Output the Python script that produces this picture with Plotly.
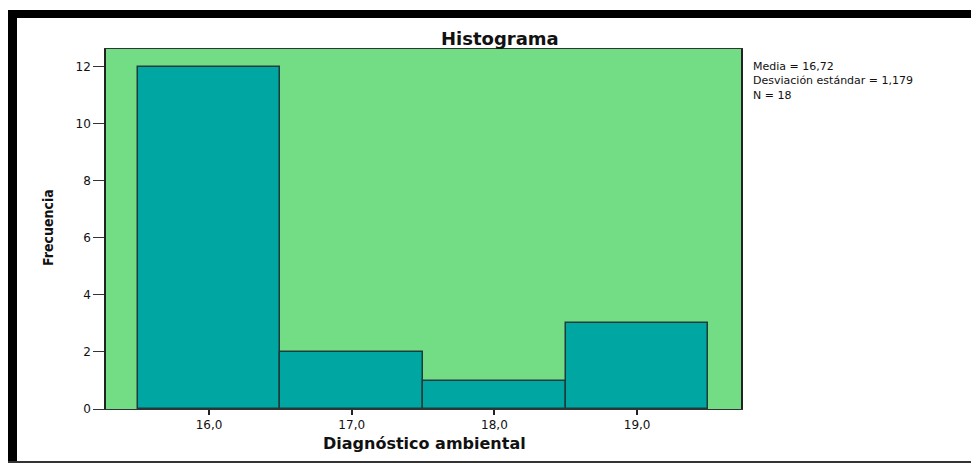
import plotly.graph_objects as go

# Data
bins = [16, 17, 18, 19]
counts = [12, 2, 1, 3]
x_tick_vals = [16, 17, 18, 19]
x_tick_text = ["16,0", "17,0", "18,0", "19,0"]
y_tick_vals = [0, 2, 4, 6, 8, 10, 12]
stats_lines = ["Media = 16,72", "Desviación estándar = 1,179", "N = 18"]

OFF = 8  # browser default body margin
W, H = 979 - OFF, 464 - OFF
L, R, T, B = 106, 741, 49, 409  # plot area in window px


def px(xp):
    return (xp - L) / (R - L)


def py(yp):
    return (B - yp) / (B - T)


fig = go.Figure()
fig.add_trace(go.Bar(
    x=bins, y=counts, width=1,
    marker=dict(color="#00A6A1", line=dict(color="#1E3C3C", width=1.5)),
    showlegend=False, hoverinfo="x+y",
))

fig.update_layout(
    width=W, height=H,
    margin=dict(l=L - OFF, r=(979 - R), t=T - OFF, b=(464 - B), pad=0),
    paper_bgcolor="white",
    plot_bgcolor="#72DD84",
    font=dict(family="DejaVu Sans, Arial", color="#111111"),
    bargap=0,
)

fig.update_xaxes(
    range=[15.278, 19.728], tickvals=x_tick_vals, ticktext=x_tick_text,
    ticks="outside", ticklen=5, tickwidth=1.5, tickcolor="#222",
    tickfont=dict(size=12, color="#111"),
    showline=True, linecolor="#333", linewidth=1, mirror=True,
    showgrid=False, zeroline=False,
)
fig.update_yaxes(
    range=[0, 12.63], tickvals=y_tick_vals,
    ticks="outside", ticklen=11, tickwidth=1, tickcolor="#333",
    tickfont=dict(size=12, color="#111"),
    showline=True, linecolor="#222", linewidth=1.5, mirror=True,
    showgrid=False, zeroline=False,
)

annotations = [
    dict(text="<b>Histograma</b>", x=px(500), y=py(38), xref="paper", yref="paper",
         showarrow=False, font=dict(size=18, color="#111"), xanchor="center", yanchor="middle"),
    dict(text="<b>Diagnóstico ambiental</b>", x=px(425), y=py(443), xref="paper", yref="paper",
         showarrow=False, font=dict(size=16, color="#111"), xanchor="center", yanchor="middle"),
    dict(text="<b>Frecuencia</b>", x=px(48), y=py(228), xref="paper", yref="paper",
         showarrow=False, textangle=-90,
         font=dict(size=14, color="#111", family="Liberation Sans Narrow, DejaVu Sans Condensed, Arial Narrow"),
         xanchor="center", yanchor="middle"),
    dict(text="<br>".join(stats_lines), x=px(751), y=py(81), xref="paper", yref="paper",
         showarrow=False, font=dict(size=11, color="#111"), align="left",
         xanchor="left", yanchor="middle"),
]
fig.update_layout(annotations=annotations)

shapes = [
    # top black band
    dict(type="rect", xref="paper", yref="paper", x0=px(8), x1=px(979), y0=py(10), y1=py(18),
         fillcolor="black", line=dict(width=0), layer="above"),
    # left black band
    dict(type="rect", xref="paper", yref="paper", x0=px(8), x1=px(17), y0=py(10), y1=py(463),
         fillcolor="black", line=dict(width=0), layer="above"),
    # bottom thin line
    dict(type="rect", xref="paper", yref="paper", x0=px(8), x1=px(979), y0=py(461), y1=py(463),
         fillcolor="#333333", line=dict(width=0), layer="above"),
]
fig.update_layout(shapes=shapes)

fig.write_html("out.html")
